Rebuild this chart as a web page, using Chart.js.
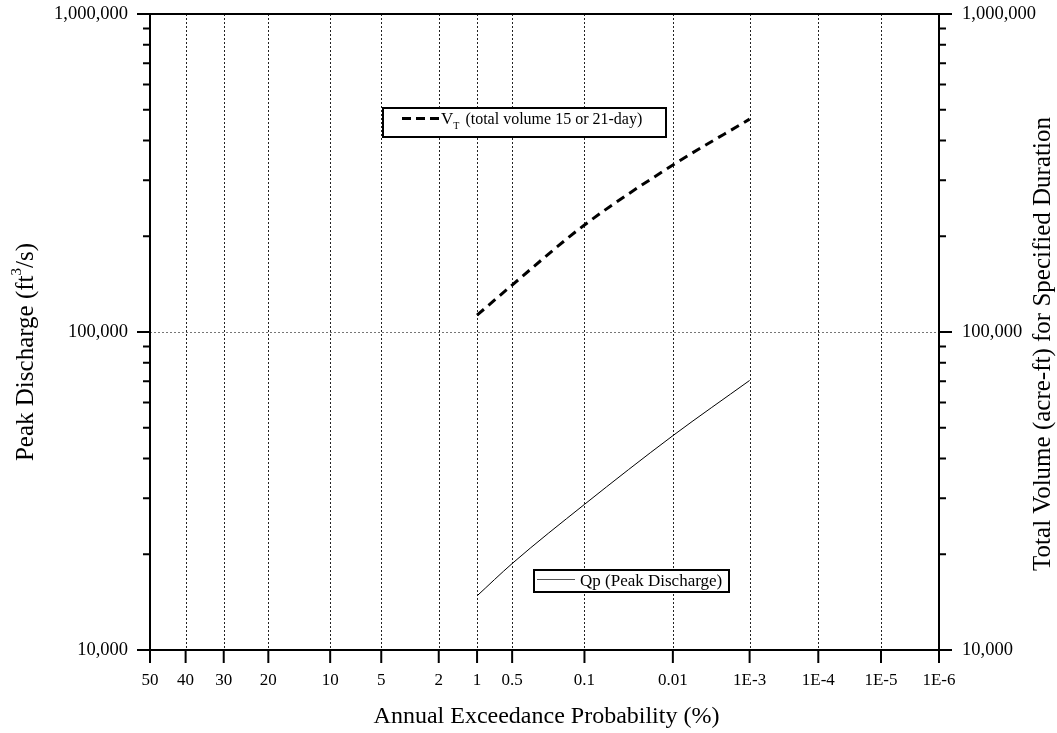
<!DOCTYPE html>
<html><head><meta charset="utf-8">
<script src="https://cdn.jsdelivr.net/npm/chart.js@4/dist/chart.umd.min.js"></script>
<style>html,body{margin:0;padding:0;background:#fff;} canvas{display:block}</style>
</head><body>
<canvas id="c" width="1057" height="733"></canvas>
<script>
// ---- data ----
const xTickLabels = ['50','40','30','20','10','5','2','1','0.5','0.1','0.01','1E-3','1E-4','1E-5','1E-6'];
const xTickValues = [50,40,30,20,10,5,2,1,0.5,0.1,0.01,1e-3,1e-4,1e-5,1e-6]; // annual exceedance probability (%)
const yTickValues = [10000,100000,1000000];
const aep = [1,0.5,0.1,0.01,0.001];                 // %
const qp  = [14800,18700,28700,47200,70400];        // ft3/s
const vt  = [113000,140500,217000,335000,467000];   // acre-ft

// normal-probability axis transform (probability % -> standard normal deviate)
function normInv(p){
  const a=[-3.969683028665376e+01,2.209460984245205e+02,-2.759285104469687e+02,1.383577518672690e+02,-3.066479806614716e+01,2.506628277459239e+00];
  const b=[-5.447609879822406e+01,1.615858368580409e+02,-1.556989798598866e+02,6.680131188771972e+01,-1.328068155288572e+01];
  const c=[-7.784894002430293e-03,-3.223964580411365e-01,-2.400758277161838e+00,-2.549732539343734e+00,4.374664141464968e+00,2.938163982698783e+00];
  const d=[7.784695709041462e-03,3.224671290700398e-01,2.445134137142996e+00,3.754408661907416e+00];
  const pl=0.02425, ph=1-pl; let q,r;
  if(p<pl){q=Math.sqrt(-2*Math.log(p));return (((((c[0]*q+c[1])*q+c[2])*q+c[3])*q+c[4])*q+c[5])/((((d[0]*q+d[1])*q+d[2])*q+d[3])*q+1);}
  if(p<=ph){q=p-0.5;r=q*q;return (((((a[0]*r+a[1])*r+a[2])*r+a[3])*r+a[4])*r+a[5])*q/(((((b[0]*r+b[1])*r+b[2])*r+b[3])*r+b[4])*r+1);}
  q=Math.sqrt(-2*Math.log(1-p));return -(((((c[0]*q+c[1])*q+c[2])*q+c[3])*q+c[4])*q+c[5])/((((d[0]*q+d[1])*q+d[2])*q+d[3])*q+1);
}
const probit = pct => -normInv(pct/100);

const FONT = '"Liberation Serif", "Times New Roman", serif';

const decor = {
  id: 'decor',
  beforeDatasetsDraw(chart){
    const {ctx, chartArea: a, scales} = chart;
    const xs = scales.x, ys = scales.y;
    ctx.save();
    ctx.lineWidth = 1;
    ctx.setLineDash([2,2]);
    ctx.strokeStyle = '#222';
    xTickValues.forEach(v => {
      const px = Math.round(xs.getPixelForValue(probit(v))) + 0.5;
      if (px < a.left + 3 || px > a.right - 3) return;
      ctx.beginPath(); ctx.moveTo(px, a.top); ctx.lineTo(px, a.bottom); ctx.stroke();
    });
    ctx.strokeStyle = '#777';
    const py = Math.round(ys.getPixelForValue(100000)) + 0.5;
    ctx.beginPath(); ctx.moveTo(a.left, py); ctx.lineTo(a.right, py); ctx.stroke();
    ctx.restore();
  },
  afterDatasetsDraw(chart){
    const {ctx, chartArea: a, scales} = chart;
    const xs = scales.x, ys = scales.y;
    ctx.save();
    ctx.setLineDash([]);
    ctx.strokeStyle = '#000';
    ctx.lineWidth = 2;
    ctx.strokeRect(a.left, a.top, a.right - a.left, a.bottom - a.top);
    // y ticks (both sides)
    for (let n = 4; n <= 6; n++) {
      for (let k = 1; k <= 9; k++) {
        const v = k * Math.pow(10, n);
        if (v > 1e6) break;
        const py = ys.getPixelForValue(v);
        const len = k === 1 ? 13 : 7;
        ctx.beginPath();
        ctx.moveTo(a.left - len, py); ctx.lineTo(a.left, py);
        ctx.moveTo(a.right, py); ctx.lineTo(a.right + len, py);
        ctx.stroke();
      }
    }
    // x ticks
    xTickValues.forEach(v => {
      const px = xs.getPixelForValue(probit(v));
      ctx.beginPath(); ctx.moveTo(px, a.bottom); ctx.lineTo(px, a.bottom + 13); ctx.stroke();
    });

    // legend boxes
    ctx.fillStyle = '#fff';
    ctx.lineWidth = 2;
    ctx.fillRect(383, 108, 283, 29); ctx.strokeRect(383, 108, 283, 29);
    ctx.fillRect(534, 570, 195, 22); ctx.strokeRect(534, 570, 195, 22);
    // legend samples
    ctx.lineWidth = 3; ctx.setLineDash([9,5]);
    ctx.beginPath(); ctx.moveTo(402, 118.5); ctx.lineTo(440, 118.5); ctx.stroke();
    ctx.setLineDash([]);
    ctx.lineWidth = 1; ctx.strokeStyle = '#555';
    ctx.beginPath(); ctx.moveTo(537, 579.5); ctx.lineTo(575, 579.5); ctx.stroke();
    // legend text
    ctx.fillStyle = '#000';
    ctx.textBaseline = 'alphabetic'; ctx.textAlign = 'left';
    ctx.font = '17px ' + FONT;
    ctx.fillText('V', 441, 124);
    let w = ctx.measureText('V').width;
    ctx.font = '10px ' + FONT;
    ctx.fillText('T', 441 + w, 129);
    let w2 = ctx.measureText('T').width;
    ctx.font = '16px ' + FONT;
    ctx.fillText(' (total volume 15 or 21-day)', 441 + w + w2 + 2, 124);
    ctx.font = '17px ' + FONT;
    ctx.fillText('Qp (Peak Discharge)', 580, 586);

    // axis titles
    ctx.font = '24px ' + FONT;
    ctx.textAlign = 'center'; ctx.textBaseline = 'middle';
    ctx.fillText('Annual Exceedance Probability (%)', (a.left + a.right) / 2 + 2, 717);

    // left title with superscript
    ctx.save();
    ctx.translate(26, 352);
    ctx.rotate(-Math.PI / 2);
    ctx.textAlign = 'left'; ctx.textBaseline = 'middle';
    const p1 = 'Peak Discharge (ft', p2 = '3', p3 = '/s)';
    ctx.font = '25px ' + FONT; const w1 = ctx.measureText(p1).width; const w3 = ctx.measureText(p3).width;
    ctx.font = '15px ' + FONT; const ws = ctx.measureText(p2).width;
    const tot = w1 + ws + w3;
    let x0 = -tot / 2;
    ctx.font = '25px ' + FONT; ctx.fillText(p1, x0, 0);
    ctx.font = '15px ' + FONT; ctx.fillText(p2, x0 + w1, -9);
    ctx.font = '25px ' + FONT; ctx.fillText(p3, x0 + w1 + ws, 0);
    ctx.restore();

    ctx.save();
    ctx.translate(1043, 344);
    ctx.rotate(-Math.PI / 2);
    ctx.font = '25px ' + FONT;
    ctx.textAlign = 'center'; ctx.textBaseline = 'middle';
    ctx.fillText('Total Volume (acre-ft) for Specified Duration', 0, 0);
    ctx.restore();

    ctx.restore();
  }
};

const zeroPad = s => { s.paddingTop = 0; s.paddingBottom = 0; s.paddingLeft = 0; s.paddingRight = 0; };

const yScale = (pos, width, pad) => ({
  type: 'logarithmic', position: pos, min: 10000, max: 1000000,
  afterBuildTicks: s => { s.ticks = yTickValues.map(v => ({value: v, major: true})); },
  afterFit: s => { s.width = width; zeroPad(s); },
  ticks: {font: {family: FONT, size: 18.5}, color: '#000', padding: pad, autoSkip: false,
          callback: v => Number(v).toLocaleString('en-US')},
  grid: {display: false, drawTicks: false}, border: {display: false}
});

new Chart(document.getElementById('c').getContext('2d'), {
  type: 'line',
  data: {datasets: [
    {label: 'Qp (Peak Discharge)', data: aep.map((p, i) => ({x: probit(p), y: qp[i]})),
     borderColor: '#000', borderWidth: 1, pointRadius: 0, yAxisID: 'y', cubicInterpolationMode: 'monotone'},
    {label: 'VT (total volume 15 or 21-day)', data: aep.map((p, i) => ({x: probit(p), y: vt[i]})),
     borderColor: '#000', borderWidth: 3, borderDash: [9, 6], pointRadius: 0, yAxisID: 'y2', cubicInterpolationMode: 'monotone'}
  ]},
  options: {
    responsive: false, animation: false,
    layout: {padding: {top: 14, left: 0, right: 0, bottom: 0}, autoPadding: false},
    plugins: {legend: {display: false}, tooltip: {enabled: false}, title: {display: false}},
    scales: {
      x: {type: 'linear', min: 0, max: probit(1e-6),
          afterBuildTicks: s => { s.ticks = xTickValues.map(v => ({value: probit(v)})); },
          afterFit: s => { s.height = 83; zeroPad(s); },
          ticks: {font: {family: FONT, size: 17}, color: '#000', padding: 20, autoSkip: false, maxRotation: 0,
                  callback: (v, i) => xTickLabels[i]},
          grid: {display: false, drawTicks: false}, border: {display: false}},
      y: yScale('left', 150, 22),
      y2: yScale('right', 118, 23)
    }
  },
  plugins: [decor]
});
</script>
</body></html>
